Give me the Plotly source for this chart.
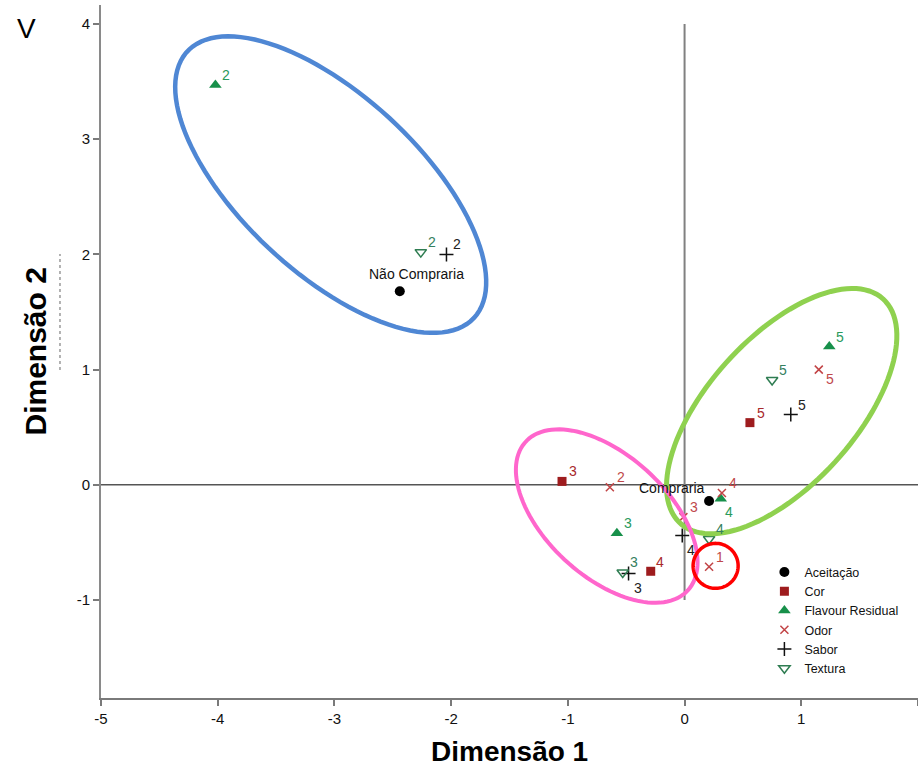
import numpy as np
import plotly.graph_objects as go

# ---------------- data ----------------
aceit_labels = ["Não Compraria", "Compraria"]
aceit_x = [-2.44, 0.21]
aceit_y = [1.68, -0.14]

cor_cats = [3, 4, 5]
cor_x = [-1.05, -0.29, 0.56]
cor_y = [0.03, -0.75, 0.54]

flav_cats = [2, 3, 4, 5]
flav_x = [-4.02, -0.58, 0.31, 1.24]
flav_y = [3.47, -0.42, -0.12, 1.20]

odor_cats = [1, 2, 3, 4, 5]
odor_x = [0.21, -0.64, -0.01, 0.32, 1.15]
odor_y = [-0.71, -0.02, -0.28, -0.07, 1.00]

sabor_cats = [2, 3, 4, 5]
sabor_x = [-2.04, -0.48, -0.02, 0.91]
sabor_y = [2.00, -0.77, -0.44, 0.61]

text_cats = [2, 3, 4, 5]
text_x = [-2.26, -0.53, 0.21, 0.75]
text_y = [2.02, -0.76, -0.47, 0.91]

x_ticks = [-5, -4, -3, -2, -1, 0, 1, 2]
y_ticks = [-1, 0, 1, 2, 3, 4]

# ---------------- label offsets (pixels) ----------------
DEF = (11, 10)
aceit_shift = [(17, 17), (-37, 13)]
cor_shift = [DEF, (9, 9), DEF]
flav_shift = [DEF, DEF, (8, -13), DEF]
odor_shift = [DEF, DEF, DEF, DEF, (11, -9)]
sabor_shift = [DEF, (9, -14), (9, -14), DEF]
text_shift = [DEF, DEF, DEF, DEF]

FONT = "Liberation Sans, Arial, sans-serif"

fig = go.Figure()

series = [
    ("Aceitação", aceit_x, aceit_y, dict(symbol="circle", size=10, color="#000000")),
    ("Cor", cor_x, cor_y, dict(symbol="square", size=9, color="#9E1C1E")),
    ("Flavour Residual", flav_x, flav_y, dict(symbol="triangle-up", size=11, color="#17904A")),
    ("Odor", odor_x, odor_y, dict(symbol="x-thin", size=8, color="#C24446",
                                   line=dict(width=1.5, color="#C24446"))),
    ("Sabor", sabor_x, sabor_y, dict(symbol="cross-thin", size=10, color="#111111",
                                      line=dict(width=1.5, color="#111111"))),
    ("Textura", text_x, text_y, dict(symbol="triangle-down-open", size=10, color="#2F7D52",
                                      line=dict(width=1.5, color="#2F7D52"))),
]

for name, xs, ys, mk in series:
    fig.add_trace(go.Scatter(x=xs, y=ys, mode="markers", name=name, marker=mk,
                             hoverinfo="skip"))

annotations = []
def add_labels(xs, ys, texts, shifts, color):
    for xv, yv, t, (dx, dy) in zip(xs, ys, texts, shifts):
        annotations.append(dict(x=xv, y=yv, xref="x", yref="y", text=str(t), showarrow=False,
                                xshift=dx, yshift=dy, font=dict(family=FONT, size=14, color=color)))

add_labels(aceit_x, aceit_y, aceit_labels, aceit_shift, "#111111")
add_labels(cor_x, cor_y, cor_cats, cor_shift, "#A8292B")
add_labels(flav_x, flav_y, flav_cats, flav_shift, "#2A9A5C")
add_labels(odor_x, odor_y, odor_cats, odor_shift, "#C0484A")
add_labels(sabor_x, sabor_y, sabor_cats, sabor_shift, "#222222")
add_labels(text_x, text_y, text_cats, text_shift, "#357F5E")

# axis titles and panel letter
annotations.append(dict(text="<b>Dimensão 1</b>", xref="paper", yref="paper", x=0.5, y=0,
                        yanchor="middle", yshift=-53, showarrow=False,
                        font=dict(family=FONT, size=28, color="#000000")))
annotations.append(dict(text="<b>Dimensão 2</b>", xref="paper", yref="paper", x=0, y=0.5,
                        xanchor="center", xshift=-66, textangle=-90, showarrow=False,
                        font=dict(family=FONT, size=30, color="#000000")))
annotations.append(dict(text="V", xref="paper", yref="paper", x=0, y=1, xanchor="center",
                        yanchor="middle", xshift=-75, yshift=-23, showarrow=False,
                        font=dict(family=FONT, size=28, color="#000000")))

# ---------------- ellipses ----------------
KY = 116.6 / 115.3
def ellipse_path(cx, cy, a, b, ang_deg, n=120):
    t = np.linspace(0, 2 * np.pi, n)
    th = np.deg2rad(ang_deg)
    ex = a * np.cos(t)
    ey = b * np.sin(t)
    px = cx + ex * np.cos(th) - ey * np.sin(th)
    py = cy + (ex * np.sin(th) + ey * np.cos(th)) * KY
    return "M " + " L ".join(f"{u:.4f},{v:.4f}" for u, v in zip(px, py)) + " Z"

ellipses = [
    (-3.032, 2.606, 1.678, 0.761, -43.0, "#4F87D4", 4.5),
    (0.832, 0.640, 1.297, 0.632, 48.0, "#8FD14F", 5),
    (-0.667, -0.271, 0.943, 0.520, -42.6, "#FF66CC", 4),
    (0.266, -0.703, 0.193, 0.193, 0.0, "#FF0000", 3.5),
]
shapes = []
# reference lines
shapes.append(dict(type="line", xref="x", yref="y", x0=-5, x1=2, y0=0, y1=0,
                   line=dict(color="#555555", width=1.5), layer="below"))
shapes.append(dict(type="line", xref="x", yref="y", x0=0, x1=0, y0=-1, y1=4,
                   line=dict(color="#808080", width=2), layer="below"))
for cx, cy, a, b, ang, col, w in ellipses:
    shapes.append(dict(type="path", xref="x", yref="y", path=ellipse_path(cx, cy, a, b, ang),
                       line=dict(color=col, width=w), fillcolor="rgba(0,0,0,0)", layer="above"))
# small dotted artefact near the y title
shapes.append(dict(type="line", xref="paper", yref="paper", x0=-0.0502, x1=-0.0502,
                   y0=0.4733, y1=0.6407, line=dict(color="#666666", width=1, dash="dot")))

fig.update_layout(
    width=918, height=766,
    margin=dict(l=101, r=0, t=5, b=68),
    paper_bgcolor="white", plot_bgcolor="white",
    font=dict(family=FONT, size=14, color="#222222"),
    showlegend=True,
    legend=dict(x=0.812, y=0.203, xanchor="left", yanchor="top",
                font=dict(family=FONT, size=12.5, color="#111111"),
                bgcolor="rgba(0,0,0,0)", borderwidth=0, tracegroupgap=0,
                itemwidth=30),
    xaxis=dict(range=[-5, 2], tickmode="array", tickvals=x_ticks,
               ticktext=[str(v) for v in x_ticks],
               showgrid=False, zeroline=False, showline=True, linecolor="#7a7a7a", linewidth=2,
               ticks="outside", ticklen=6, tickcolor="#7a7a7a", tickwidth=1.5,
               tickfont=dict(family=FONT, size=15, color="#111111")),
    yaxis=dict(range=[-1.85, 4.165], tickmode="array", tickvals=y_ticks,
               ticktext=[str(v) for v in y_ticks],
               showgrid=False, zeroline=False, showline=True, linecolor="#8a8a8a", linewidth=2,
               ticks="outside", ticklen=6, tickcolor="#7a7a7a", tickwidth=1.5,
               tickfont=dict(family=FONT, size=15, color="#111111")),
    annotations=annotations,
    shapes=shapes,
)

fig.write_html("out.html")
